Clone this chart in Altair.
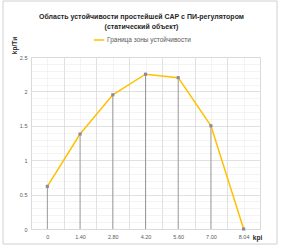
import json
import altair as alt
import pandas as pd

# ---- data ----
kpi_labels = ["0", "1.40", "2.80", "4.20", "5.60", "7.00", "8.04"]
kp_ti = [0.62, 1.38, 1.95, 2.25, 2.20, 1.50, 0.0]
series_name = "Граница зоны устойчивости"
title_lines = ["Область устойчивости простейшей САР с ПИ-регулятором", "(статический объект)"]
x_title = "kpi"
y_title = "kp/Tи"

df = pd.DataFrame({
    "idx": list(range(len(kpi_labels))),
    "kpi": kpi_labels,
    "v": kp_ti,
    "s": [series_name] * len(kpi_labels),
})

FONT = "Liberation Sans"
x_vals = [i * 0.5 - 0.5 for i in range(2 * len(kpi_labels) + 1)]
y_vals = [i / 10 for i in range(26)]
label_arr = json.dumps(kpi_labels)

x_axis = alt.Axis(
    values=x_vals,
    labelExpr=f"datum.value % 1 == 0 ? {label_arr}[datum.value] : ''",
    labelOverlap=False,
    labelFontSize=5.5,
    labelColor="#595959",
    labelFont=FONT,
    labelPadding=5,
    ticks=False,
    domain=False,
    grid=True,
    gridColor={"condition": {"test": "datum.value % 1 == 0", "value": "#e3e3e3"}, "value": "#d9d9d9"},
    gridDash={"condition": {"test": "datum.value % 1 == 0", "value": [1, 1]}, "value": []},
    gridWidth=0.8,
    title=x_title,
    titleFont=FONT,
    titleFontSize=6.5,
    titleFontWeight="bold",
    titleColor="#262626",
    titleX=226,
    titleY=8,
    titleAlign="center",
    titleBaseline="middle",
    titleAngle=0,
)

y_axis = alt.Axis(
    values=y_vals,
    labelExpr="round(datum.value*10) % 5 == 0 ? toString(round(datum.value*10)/10) : ''",
    labelOverlap=False,
    labelFontSize=5.5,
    labelColor="#595959",
    labelFont=FONT,
    labelPadding=4,
    ticks=False,
    domain=False,
    grid=True,
    gridColor={"condition": {"test": "round(datum.value*10) % 5 == 0", "value": "#d9d9d9"}, "value": "#e3e3e3"},
    gridDash={"condition": {"test": "round(datum.value*10) % 5 == 0", "value": []}, "value": [1, 1]},
    gridWidth=0.8,
    title=y_title,
    titleFont=FONT,
    titleFontSize=6.5,
    titleFontWeight="bold",
    titleColor="#262626",
    titleX=-17,
    titleY=-12,
    titleAlign="center",
    titleBaseline="middle",
    titleAngle=270,
)

x_enc = alt.X("idx:Q", scale=alt.Scale(domain=[-0.5, len(kpi_labels) - 0.5], nice=False, zero=False), axis=x_axis)
y_enc = alt.Y("v:Q", scale=alt.Scale(domain=[0, 2.5], nice=False), axis=y_axis)

base = alt.Chart(df).encode(x=x_enc, y=y_enc)

drops = base.mark_rule(color="#9a9a9a", strokeWidth=1).encode(y2=alt.datum(0))

line = base.mark_line(strokeWidth=1.5).encode(
    color=alt.Color(
        "s:N",
        scale=alt.Scale(domain=[series_name], range=["#FFC000"]),
        legend=alt.Legend(
            title=None,
            orient="none",
            legendX=62,
            legendY=-23,
            symbolType="stroke",
            symbolSize=110,
            symbolStrokeWidth=1.5,
            labelFont=FONT,
            labelFontSize=6.5,
            labelColor="#595959",
            labelOffset=2,
        ),
    )
)

points = base.mark_point(filled=True, shape="square", size=10, color="#8a8a9a", opacity=1)

border = alt.Chart(pd.DataFrame({"a": [0]})).mark_rect(
    fillOpacity=0, stroke="#d0d0d0", strokeWidth=1
).encode(
    x=alt.value(-28), x2=alt.value(246), y=alt.value(-56), y2=alt.value(187)
)

chart = alt.layer(border, drops, line, points).properties(
    width=229,
    height=172,
    title=alt.TitleParams(
        text=title_lines,
        font=FONT,
        fontSize=7,
        fontWeight="bold",
        color="#262626",
        anchor="middle",
        offset=-29,
        dx=-4,
        lineHeight=10,
    ),
    autosize=alt.AutoSizeParams(type="none"),
    padding={"left": 31, "top": 57, "right": 22, "bottom": 19},
).configure_view(stroke=None).configure(background="white")

chart.save("out.html", embed_options={"renderer": "svg", "actions": False})
